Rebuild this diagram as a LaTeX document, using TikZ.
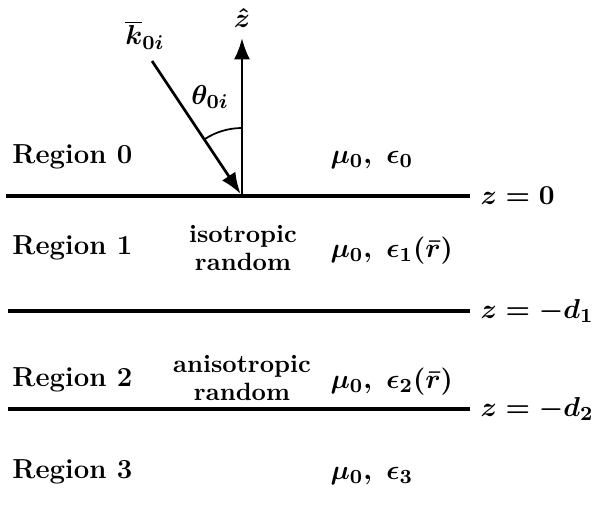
\documentclass[tikz,border=0pt]{standalone}
\usetikzlibrary{positioning,arrows.meta}
\tikzset{
  regiontext/.style={anchor=west, inner sep=0pt, font=\fontsize{11}{13}\selectfont\bfseries},
  mediumtext/.style={anchor=west, inner sep=0pt, font=\boldmath\fontsize{11}{13}\selectfont},
  kindtext/.style={align=center, inner sep=0pt, font=\fontsize{10}{11}\selectfont\bfseries},
  boundary/.style={line width=1.3pt},
  depthtext/.style={anchor=west, inner sep=0pt, font=\boldmath\fontsize{11}{13}\selectfont}
}

\begin{document}
\begin{tikzpicture}[x=0.4pt, y=0.4pt]
    \useasboundingbox (0,0) rectangle (592,508);

    % interfaces
    \coordinate (o) at (242,312);
    \coordinate (l0w) at (6,312);
    \coordinate (l0e) at (470,312);
    \coordinate (l1w) at (8,197);
    \coordinate (l1e) at (470,197);
    \coordinate (l2w) at (8,99);
    \coordinate (l2e) at (470,99);

    \draw[boundary] (l0w) -- (l0e);
    \draw[boundary] (l1w) -- (l1e);
    \draw[boundary] (l2w) -- (l2e);

    \node[depthtext, right=4pt of l0e] (z0) {$z=0$};
    \node[depthtext, right=4pt of l1e] (z1) {$z=-d_1$};
    \node[depthtext, right=4pt of l2e] (z2) {$z=-d_2$};

    % regions
    \node[regiontext] (r0) at (12,351) {Region 0};
    \node[regiontext] (r1) at (12,260) {Region 1};
    \node[regiontext] (r2) at (12,128) {Region 2};
    \node[regiontext] (r3) at (12,36) {Region 3};

    \node[kindtext] (iso) at (243,260) {isotropic\\random};
    \node[kindtext] (aniso) at (242,130) {anisotropic\\random};

    \node[mediumtext] (m0) at (330,348) {$\mu_0,\ \epsilon_0$};
    \node[mediumtext] (m1) at (330,257) {$\mu_0,\ \epsilon_1(\bar r)$};
    \node[mediumtext] (m2) at (330,126) {$\mu_0,\ \epsilon_2(\bar r)$};
    \node[mediumtext] (m3) at (330,32) {$\mu_0,\ \epsilon_3$};

    % incidence
    \coordinate (ztip) at (242,470);
    \coordinate (kstart) at (152,447);
    \node[mediumtext, anchor=center] (zhat) at (242,490) {$\hat z$};
    \node[mediumtext, anchor=center] (kvec) at (145,473) {$\overline{k}_{0i}$};
    \node[mediumtext, anchor=center] (theta) at (210,411) {$\theta_{0i}$};

    \draw[-{Latex[length=3mm]},line width=1.1pt] (o) -- (ztip);
    \draw[-{Latex[length=3mm]},line width=1.1pt,shorten >=1pt] (kstart) -- (o);
    \draw[line width=0.7pt] ([shift={(90:68)}]o) arc[start angle=90, end angle=123.7, radius=68];
  \end{tikzpicture}
\end{document}
